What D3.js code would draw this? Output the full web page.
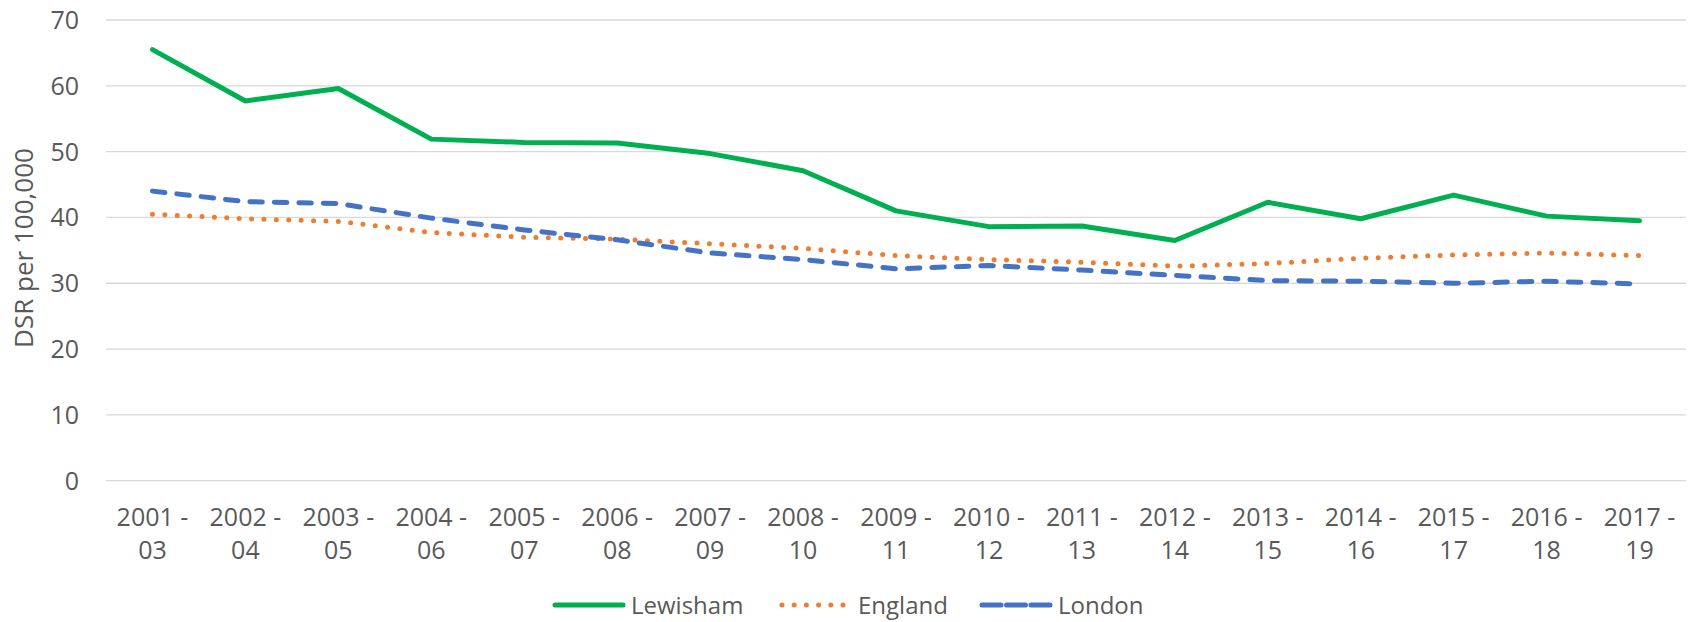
<!DOCTYPE html>
<html>
<head>
<meta charset="utf-8">
<script src="https://cdn.jsdelivr.net/npm/d3@7"></script>
<style>
  body { margin: 0; background: #fff; overflow: hidden; }
  svg { display: block; }
  text { font-family: "Open Sans", sans-serif; fill: #595959; }
</style>
</head>
<body>
<div id="chart"></div>
<script>
const periods = ["2001 - 03", "2002 - 04", "2003 - 05", "2004 - 06", "2005 - 07", "2006 - 08",
  "2007 - 09", "2008 - 10", "2009 - 11", "2010 - 12", "2011 - 13", "2012 - 14", "2013 - 15",
  "2014 - 16", "2015 - 17", "2016 - 18", "2017 - 19"];
const lewisham = [65.5, 57.7, 59.6, 51.9, 51.4, 51.3, 49.7, 47.1, 41.0, 38.6, 38.7, 36.5, 42.3, 39.8, 43.4, 40.2, 39.5];
const england = [40.5, 39.8, 39.4, 37.7, 37.0, 36.7, 36.0, 35.3, 34.2, 33.6, 33.2, 32.6, 33.0, 33.8, 34.3, 34.6, 34.2];
const london = [44.0, 42.4, 42.1, 39.9, 38.1, 36.6, 34.6, 33.6, 32.2, 32.7, 32.0, 31.2, 30.4, 30.3, 30.0, 30.3, 29.9];
const yTicks = [0, 10, 20, 30, 40, 50, 60, 70];

const series = [
  { name: "Lewisham", values: lewisham, color: "#00B050", width: 5, dash: null, legendDash: null },
  { name: "England", values: england, color: "#ED7D31", width: 5, dash: "0 12.4", legendDash: "0 12.2" },
  { name: "London", values: london, color: "#4472C4", width: 5, dash: "12.5 12", legendDash: "19 5.5" }
];

const W = 1690, H = 622;
const margin = { top: 20, right: 4, bottom: 141.3, left: 106 };
const width = W - margin.left - margin.right;
const height = H - margin.top - margin.bottom;

const svg = d3.select("#chart").append("svg")
  .attr("width", W)
  .attr("height", H);

const g = svg.append("g")
  .attr("transform", `translate(${margin.left},${margin.top})`);

const x = d3.scaleBand()
  .domain(periods)
  .range([0, width]);

const y = d3.scaleLinear()
  .domain([0, 70])
  .range([height, 0]);

// gridlines
g.append("g")
  .selectAll("line")
  .data(yTicks)
  .enter()
  .append("line")
  .attr("x1", 0)
  .attr("x2", width)
  .attr("y1", d => y(d))
  .attr("y2", d => y(d))
  .attr("stroke", "#D9D9D9")
  .attr("stroke-width", 1.3);

// y tick labels
g.append("g")
  .selectAll("text")
  .data(yTicks)
  .enter()
  .append("text")
  .attr("x", -27)
  .attr("y", d => y(d))
  .attr("dy", "0.36em")
  .attr("text-anchor", "end")
  .style("font-size", "25px")
  .text(d => d);

// x tick labels, two lines
const xLabels = g.append("g")
  .selectAll("text")
  .data(periods)
  .enter()
  .append("text")
  .attr("text-anchor", "middle")
  .style("font-size", "25px");

xLabels.append("tspan")
  .attr("x", d => x(d) + x.bandwidth() / 2)
  .attr("y", height + 45.5)
  .text(d => d.split(" - ")[0] + " -");

xLabels.append("tspan")
  .attr("x", d => x(d) + x.bandwidth() / 2)
  .attr("y", height + 78)
  .text(d => d.split(" - ")[1]);

// y axis title
svg.append("text")
  .attr("transform", `translate(33,248) rotate(-90)`)
  .attr("text-anchor", "middle")
  .style("font-size", "26px")
  .text("DSR per 100,000");

// lines
const line = d3.line()
  .x((d, i) => x(periods[i]) + x.bandwidth() / 2)
  .y(d => y(d));

series.forEach(s => {
  g.append("path")
    .datum(s.values)
    .attr("fill", "none")
    .attr("stroke", s.color)
    .attr("stroke-width", s.width)
    .attr("stroke-linecap", "round")
    .attr("stroke-linejoin", "round")
    .attr("stroke-dasharray", s.dash)
    .attr("d", line);
});

// legend
const legendX = [555, 782, 982];
const legend = svg.append("g")
  .attr("transform", "translate(0,605)");

series.forEach((s, i) => {
  legend.append("line")
    .attr("x1", legendX[i])
    .attr("x2", legendX[i] + 68)
    .attr("y1", 0)
    .attr("y2", 0)
    .attr("stroke", s.color)
    .attr("stroke-width", s.width)
    .attr("stroke-linecap", "round")
    .attr("stroke-dasharray", s.legendDash);

  legend.append("text")
    .attr("x", legendX[i] + 76)
    .attr("y", 0)
    .attr("dy", "0.36em")
    .style("font-size", "24px")
    .text(s.name);
});
</script>
</body>
</html>
